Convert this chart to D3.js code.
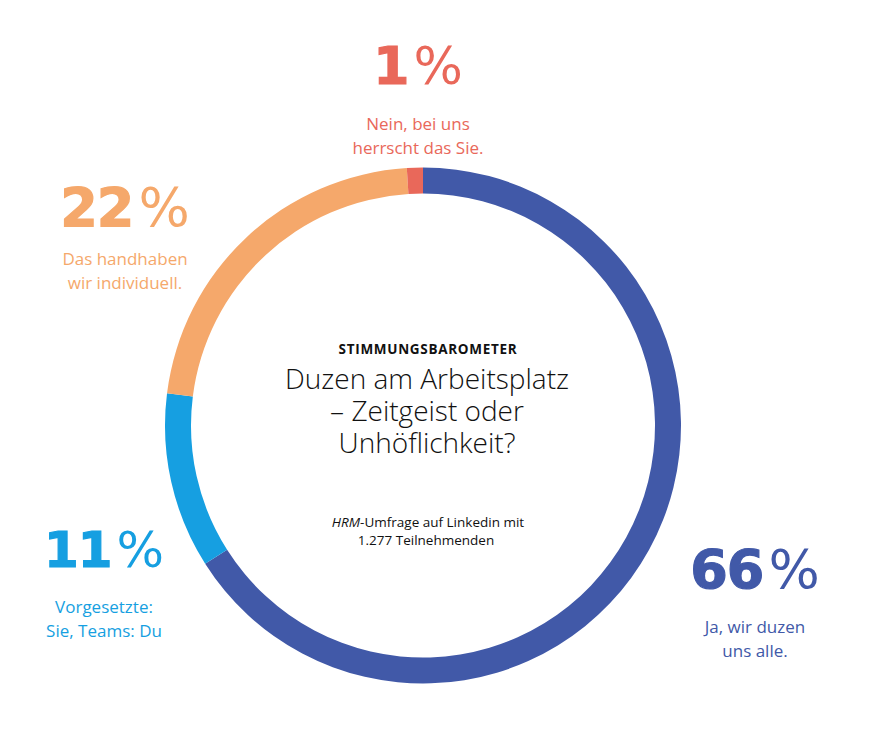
<!DOCTYPE html>
<html>
<head>
<meta charset="utf-8">
<script src="https://cdn.jsdelivr.net/npm/d3@7"></script>
<style>
  html, body { margin: 0; padding: 0; background: #ffffff; }
  svg { display: block; }
</style>
</head>
<body>
<svg id="chart" width="870" height="744"></svg>
<script>
// ---- data ----
const categories = ["Ja, wir duzen uns alle.", "Vorgesetzte: Sie, Teams: Du", "Das handhaben wir individuell.", "Nein, bei uns herrscht das Sie."];
const values = [66, 11, 22, 1];
const percentLabels = ["66", "11", "22", "1"];
const labelLines = [
  ["Ja, wir duzen", "uns alle."],
  ["Vorgesetzte:", "Sie, Teams: Du"],
  ["Das handhaben", "wir individuell."],
  ["Nein, bei uns", "herrscht das Sie."]
];
const colors = ["#4159a8", "#169fe1", "#f5a86b", "#e9685a"];
const kicker = "STIMMUNGSBAROMETER";
const titleLines = ["Duzen am Arbeitsplatz", "– Zeitgeist oder", "Unhöflichkeit?"];
const noteLine2 = "1.277 Teilnehmenden";

// ---- layout ----
const cx = 423, cy = 425.5, rOuter = 258, rInner = 232;
const labelLayout = [
  { x: 755, pct: 588, l1: 633, size: 54 },
  { x: 104, pct: 567, l1: 613, size: 50 },
  { x: 125, pct: 226, l1: 265, size: 54 },
  { x: 418, pct: 84,  l1: 130, size: 52 }
];

const svg = d3.select("#chart");
const g = svg.append("g").attr("transform", `translate(${cx},${cy})`);

const pie = d3.pie().sort(null).startAngle(0).endAngle(2 * Math.PI).value(d => d);
const arc = d3.arc().innerRadius(rInner).outerRadius(rOuter);

g.selectAll("path.seg")
  .data(pie(values))
  .join("path")
  .attr("class", "seg")
  .attr("d", arc)
  .attr("fill", (d, i) => colors[i]);

// ---- percentage labels ----
const lab = svg.selectAll("g.lab").data(categories).join("g").attr("class", "lab");

lab.append("text")
  .attr("x", (d, i) => labelLayout[i].x)
  .attr("y", (d, i) => labelLayout[i].pct)
  .attr("text-anchor", "middle")
  .attr("fill", (d, i) => colors[i])
  .style("font-family", "'DejaVu Sans', sans-serif")
  .style("font-size", (d, i) => labelLayout[i].size + "px")
  .each(function(d, i) {
    const t = d3.select(this);
    t.append("tspan").style("font-weight", "700")
      .attr("stroke", colors[i]).attr("stroke-width", 1.2)
      .style("letter-spacing", "-1px")
      .text(percentLabels[i]);
    t.append("tspan").attr("dx", 5).style("font-weight", "400").text("%");
  });

lab.each(function(d, i) {
  const sel = d3.select(this);
  labelLines[i].forEach((line, j) => {
    sel.append("text")
      .attr("x", labelLayout[i].x)
      .attr("y", labelLayout[i].l1 + j * 24)
      .attr("text-anchor", "middle")
      .attr("fill", colors[i])
      .style("font-family", "'Open Sans', sans-serif")
      .style("font-size", "17px")
      .style("font-weight", "400")
      .text(line);
  });
});

// ---- center text ----
const center = svg.append("g").attr("text-anchor", "middle").attr("fill", "#111");
center.append("text")
  .attr("x", 428).attr("y", 354)
  .style("font-family", "'Open Sans', sans-serif")
  .style("font-size", "13.5px").style("font-weight", "700")
  .style("letter-spacing", "0.7px")
  .text(kicker);

titleLines.forEach((line, j) => {
  center.append("text")
    .attr("x", 427).attr("y", 389 + j * 32)
    .style("font-family", "'Open Sans', sans-serif")
    .style("font-size", "28px").style("font-weight", "300")
    .text(line);
});

const note = center.append("text")
  .attr("x", 428).attr("y", 527)
  .style("font-family", "'Open Sans', sans-serif")
  .style("font-size", "13.5px").style("font-weight", "400");
note.append("tspan").style("font-style", "italic").text("HRM");
note.append("tspan").text("-Umfrage auf Linkedin mit");

center.append("text")
  .attr("x", 426).attr("y", 545)
  .style("font-family", "'Open Sans', sans-serif")
  .style("font-size", "13.5px").style("font-weight", "400")
  .text(noteLine2);
</script>
</body>
</html>
